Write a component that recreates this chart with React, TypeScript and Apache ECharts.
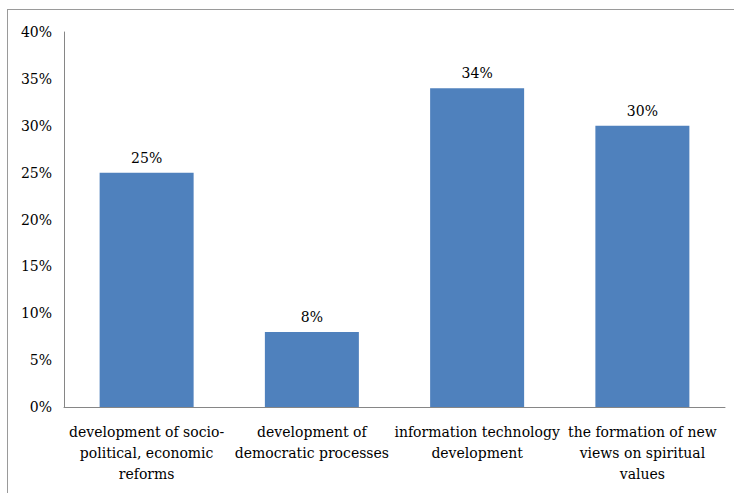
import React, { useEffect, useRef } from "react";
import * as echarts from "echarts";

const categories = [
  "development of socio-\npolitical, economic\nreforms",
  "development of\ndemocratic processes",
  "information technology\ndevelopment",
  "the formation of new\nviews on spiritual\nvalues",
];
const values = [25, 8, 34, 30];
const yTicks = { min: 0, max: 40, interval: 5 };

export default function App() {
  const ref = useRef<HTMLDivElement>(null);
  useEffect(() => {
    const chart = echarts.init(ref.current!, null, { renderer: "svg" });
    const font = "DejaVu Serif";
    chart.setOption({
      animation: false,
      grid: { left: 64, right: 9, top: 32, bottom: 86, containLabel: false },
      xAxis: {
        type: "category",
        data: categories,
        axisLine: { show: true, lineStyle: { color: "#868686", width: 1 } },
        axisTick: { show: false },
        axisLabel: {
          interval: 0,
          color: "#000",
          fontFamily: font,
          fontSize: 14,
          lineHeight: 21,
          margin: 14,
        },
      },
      yAxis: {
        type: "value",
        min: yTicks.min,
        max: yTicks.max,
        interval: yTicks.interval,
        splitLine: { show: false },
        axisLine: { show: true, lineStyle: { color: "#868686", width: 1 } },
        axisTick: { show: false },
        axisLabel: {
          color: "#000",
          fontFamily: font,
          fontSize: 14,
          margin: 12,
          formatter: (v: number) => v + "%",
        },
      },
      series: [
        {
          type: "bar",
          data: values,
          barWidth: 94,
          itemStyle: { color: "#4F81BD" },
          label: {
            show: true,
            position: "top",
            distance: 8,
            color: "#000",
            fontFamily: font,
            fontSize: 14,
            formatter: (p: any) => p.value + "%",
          },
        },
      ],
    });
    return () => chart.dispose();
  }, []);
  return (
    <div style={{ position: "fixed", left: 0, top: 0, width: 734, height: 493, background: "#fff" }}>
      <div
        style={{
          position: "absolute",
          left: 7,
          top: 9,
          width: 740,
          height: 500,
          borderLeft: "1.5px solid #9a9a9a",
          borderTop: "1.5px solid #9a9a9a",
        }}
      />
      <div ref={ref} style={{ position: "absolute", left: 0, top: 0, width: 734, height: 493 }} />
    </div>
  );
}
